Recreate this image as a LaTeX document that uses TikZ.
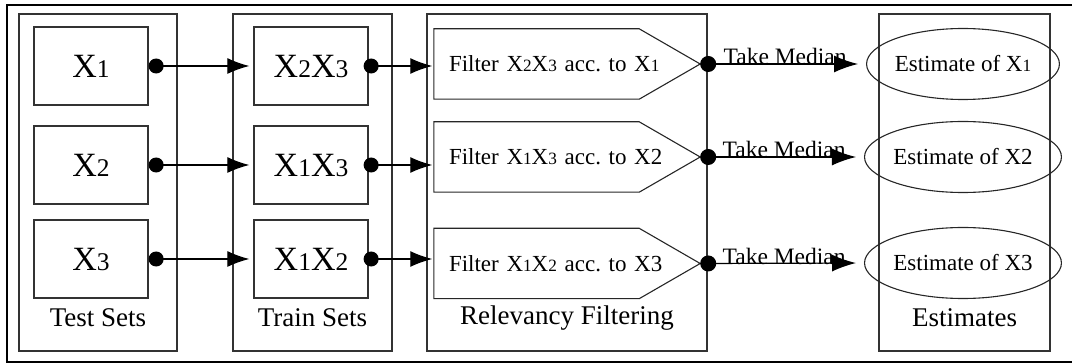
\documentclass[tikz,border=0pt]{standalone}
\usepackage{fontspec}
\setmainfont{Liberation Serif}
\usetikzlibrary{arrows.meta,shapes.geometric}
\newcommand{\xn}[1]{X\scalebox{0.75}{#1}}
\begin{document}
\begin{tikzpicture}[x=1pt,y=-1pt,
  grp/.style={draw=black!80, line width=1.3pt, minimum width=#1, minimum height=337pt, inner sep=0pt},
  setbox/.style={draw=black!80, line width=1.3pt, minimum width=114pt, minimum height=78pt, font=\fontsize{34}{34}\selectfont},
  filt/.style={minimum width=266pt, minimum height=70pt, text width=236pt, inner xsep=15pt, align=left, font=\fontsize{23}{23}\selectfont},
  est/.style={ellipse, draw=black!85, line width=1.1pt, minimum width=164pt, minimum height=71pt, inner sep=0pt, font=\fontsize{23}{23}\selectfont},
  title/.style={font=\fontsize{27}{27}\selectfont},
  link/.style={line width=1.2pt, {Circle[length=15pt]}-{Latex[length=22pt,width=16pt]}},
  median/.style={line width=1.2pt, {Circle[length=16pt]}-{Latex[length=24pt,width=17pt]}}]
\useasboundingbox (0,0) rectangle (1072,363);
\draw[line width=1.3pt] (1072,5) -- (7,5) -- (7,362) -- (1072,362);

% groups
\node[grp=158pt] (test) at (98,182.5) {};
\node[grp=159pt] (train) at (312.5,182.5) {};
\node[grp=280pt] (relev) at (567,182.5) {};
\node[grp=171pt] (estim) at (964.5,182.5) {};
\node[title] (testlbl) at (98,318) {Test Sets};
\node[title] (trainlbl) at (312.5,318) {Train Sets};
\node[title] (relevlbl) at (567,318) {Relevancy Filtering};
\node[title] (estimlbl) at (964.5,318) {Estimates};

% test sets
\node[setbox] (t1) at (91,66) {\xn1};
\node[setbox] (t2) at (91,165) {\xn2};
\node[setbox] (t3) at (91,259) {\xn3};

% train sets
\node[setbox] (r1) at (311,66) {\xn2\xn3};
\node[setbox] (r2) at (311,165) {\xn1\xn3};
\node[setbox] (r3) at (311,259) {\xn1\xn2};

% filters
\node[filt] (f1) at (567,64) {Filter \xn2\xn3 acc.\ to \xn1};
\node[filt] (f2) at (567,157) {Filter \xn1\xn3 acc.\ to X2};
\node[filt] (f3) at (567,263.5) {Filter \xn1\xn2 acc.\ to X3};
\draw[line width=1.1pt, black!85] (f1.north west) -- ([xshift=-61pt]f1.north east) -- (f1.east) -- ([xshift=-61pt]f1.south east) -- (f1.south west) -- cycle;
\draw[line width=1.1pt, black!85] (f2.north west) -- ([xshift=-61pt]f2.north east) -- (f2.east) -- ([xshift=-61pt]f2.south east) -- (f2.south west) -- cycle;
\draw[line width=1.1pt, black!85] (f3.north west) -- ([xshift=-61pt]f3.north east) -- (f3.east) -- ([xshift=-61pt]f3.south east) -- (f3.south west) -- cycle;

% estimates
\node[est] (e1) at (963,64) {Estimate of \xn1};
\node[est] (e2) at (963,157) {Estimate of X2};
\node[est] (e3) at (963,263) {Estimate of X3};

% connectors
\draw[link, shorten >=4pt] (t1.east) -- (r1.west);
\draw[link, shorten >=4pt] (t2.east) -- (r2.west);
\draw[link, shorten >=4pt] (t3.east) -- (r3.west);

\draw[link, shorten <=-5pt, shorten >=1.5pt] (r1.east) -- (r1.east -| f1.west);
\draw[link, shorten <=-5pt, shorten >=1.5pt] (r2.east) -- (r2.east -| f2.west);
\draw[link, shorten <=-5pt, shorten >=1.5pt] (r3.east) -- (r3.east -| f3.west);

\draw[median, shorten >=8pt] (f1.east) -- (e1.west)
  node[midway, anchor=base, xshift=2pt, yshift=-1pt, font=\fontsize{23.5}{23.5}\selectfont] {Take Median};
\draw[median, shorten >=8pt] (f2.east) -- (e2.west)
  node[midway, anchor=base, xshift=2pt, yshift=-1pt, font=\fontsize{23.5}{23.5}\selectfont] {Take Median};
\draw[median, shorten >=8pt] (f3.east) -- (e3.west)
  node[midway, anchor=base, xshift=2pt, yshift=-1pt, font=\fontsize{23.5}{23.5}\selectfont] {Take Median};
\end{tikzpicture}
\end{document}
